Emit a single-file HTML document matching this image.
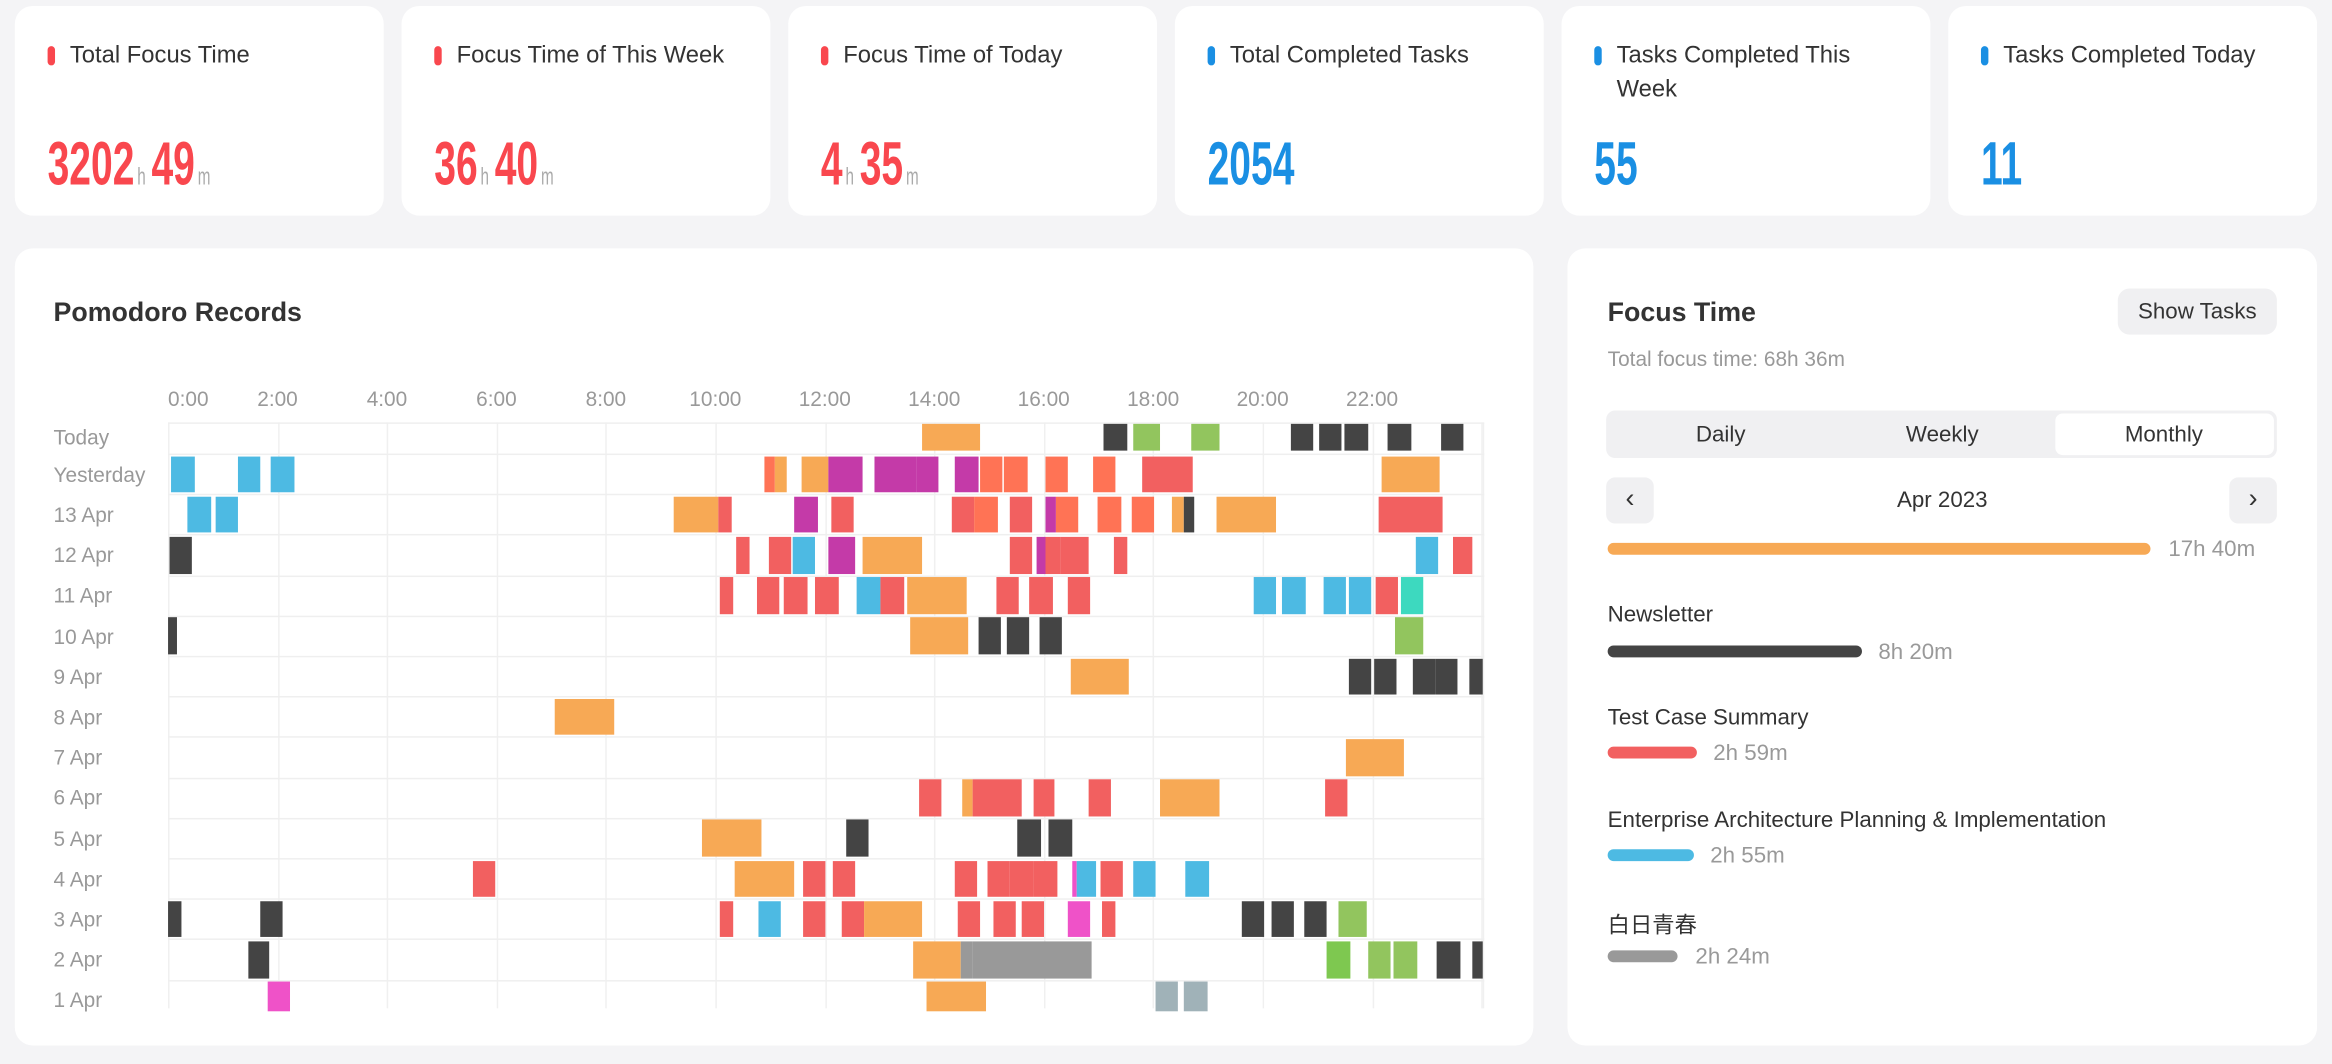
<!DOCTYPE html>
<html><head><meta charset="utf-8"><style>
*{box-sizing:border-box;margin:0;padding:0}
html,body{width:2332px;height:1064px;overflow:hidden;background:#f4f4f6}
#w{position:absolute;left:0;top:0;width:1568px;height:715px;transform:scale(1.4872);transform-origin:0 0;font-family:"Liberation Sans","Noto Sans CJK SC",sans-serif;color:#333}
.card{position:absolute;top:4px;width:248px;height:141px;background:#fff;border-radius:12px}
.ct{position:absolute;left:37px;top:22px;font-size:16px;line-height:23px;color:#333;width:190px}
.dot{position:absolute;left:22px;top:27px;width:5px;height:13px;border-radius:3px}
.num{position:absolute;left:22px;top:82px;white-space:nowrap;transform:scaleX(0.64);transform-origin:0 0;font-size:41px;font-weight:bold;line-height:48px}
.num small{font-size:16px;color:#aaa;font-weight:normal;margin:0 6px 0 3px}
.panel{position:absolute;background:#fff;border-radius:12px}
.h{position:absolute;font-size:18px;font-weight:bold;color:#333}
.ax{position:absolute;top:260px;font-size:14px;color:#999;transform:translateX(-50%)}
.rl{position:absolute;left:36px;font-size:14px;color:#999;line-height:16px}
.b{position:absolute}
.gv{position:absolute;top:284px;height:394px;width:1px;background:#f0f0f0}
.gh{position:absolute;left:113px;width:885px;height:1px;background:#efefef}
.seg{position:absolute;font-size:15px;color:#333;transform:translateX(-50%);top:284px}
.nm{position:absolute;left:1081px;font-size:15px;color:#333}
.bar{position:absolute;left:1081px;height:8px;border-radius:4px}
.v{position:absolute;font-size:15px;color:#999}
</style></head><body><div id="w">
<div class="card" style="left:10px"><div class="dot" style="background:#f9474e"></div><div class="ct">Total Focus Time</div><div class="num" style="color:#f9474e">3202<small>h</small>49<small>m</small></div></div>
<div class="card" style="left:270px"><div class="dot" style="background:#f9474e"></div><div class="ct">Focus Time of This Week</div><div class="num" style="color:#f9474e">36<small>h</small>40<small>m</small></div></div>
<div class="card" style="left:530px"><div class="dot" style="background:#f9474e"></div><div class="ct">Focus Time of Today</div><div class="num" style="color:#f9474e">4<small>h</small>35<small>m</small></div></div>
<div class="card" style="left:790px"><div class="dot" style="background:#1a8fe3"></div><div class="ct">Total Completed Tasks</div><div class="num" style="color:#1a8fe3">2054</div></div>
<div class="card" style="left:1050px"><div class="dot" style="background:#1a8fe3"></div><div class="ct">Tasks Completed This Week</div><div class="num" style="color:#1a8fe3">55</div></div>
<div class="card" style="left:1310px"><div class="dot" style="background:#1a8fe3"></div><div class="ct">Tasks Completed Today</div><div class="num" style="color:#1a8fe3">11</div></div>

<div class="panel" style="left:10px;top:167px;width:1021px;height:536px"></div>
<div class="h" style="left:36px;top:200px">Pomodoro Records</div>
<div id="chart"></div>

<div class="panel" style="left:1054px;top:167px;width:504px;height:536px"></div>
<div class="h" style="left:1081px;top:200px">Focus Time</div>
<div style="position:absolute;left:1424px;top:194px;width:107px;height:31px;background:#f0f0f2;border-radius:8px;font-size:15px;line-height:31px;text-align:center">Show Tasks</div>
<div style="position:absolute;left:1081px;top:233px;font-size:14px;color:#999">Total focus time: 68h 36m</div>
<div style="position:absolute;left:1080px;top:276px;width:451px;height:32px;background:#f0f0f2;border-radius:6px"></div>
<div style="position:absolute;left:1382px;top:278px;width:147px;height:28px;background:#fff;border-radius:5px"></div>
<div class="seg" style="left:1157px">Daily</div><div class="seg" style="left:1306px">Weekly</div><div class="seg" style="left:1455px">Monthly</div>
<div style="position:absolute;left:1080px;top:321px;width:32px;height:31px;background:#f0f0f2;border-radius:6px;text-align:center;line-height:29px;font-size:18px">‹</div>
<div style="position:absolute;left:1499px;top:321px;width:32px;height:31px;background:#f0f0f2;border-radius:6px;text-align:center;line-height:29px;font-size:18px">›</div>
<div style="position:absolute;left:1306px;top:328px;transform:translateX(-50%);font-size:15px">Apr 2023</div>
<div class="bar" style="top:365px;width:365px;background:#f7a955"></div><div class="v" style="left:1458px;top:361px">17h 40m</div>
<div class="nm" style="top:405px">Newsletter</div>
<div class="bar" style="top:434px;width:171px;background:#444"></div><div class="v" style="left:1263px;top:430px">8h 20m</div>
<div class="nm" style="top:474px">Test Case Summary</div>
<div class="bar" style="top:502px;width:60px;background:#f26060"></div><div class="v" style="left:1152px;top:498px">2h 59m</div>
<div class="nm" style="top:543px">Enterprise Architecture Planning &amp; Implementation</div>
<div class="bar" style="top:571px;width:58px;background:#4dbae3"></div><div class="v" style="left:1150px;top:567px">2h 55m</div>
<div class="nm" style="top:611px">白日青春</div>
<div class="bar" style="top:639px;width:47px;background:#999"></div><div class="v" style="left:1140px;top:635px">2h 24m</div>
</div>
<script>
var C={O:'#f7a955',R:'#f26060',Q:'#ff7355',M:'#c43aa8',B:'#4dbae3',D:'#444',G:'#92c55e',T:'#3dd9bf',Y:'#999',P:'#ef52c8',S:'#a0b2b8',L:'#7ec850'};
var rows=[
"O897-965 D1108-1135 G1142-1174 G1210-1242 D1325-1352 D1359-1385 D1388-1415 D1439-1466 D1501-1527",
"B23-50 B100-126 B139-166 Q713-726 O726-740 O757-787 M787-827 M841-889 M889-915 M935-962 Q964-991 Q992-1019 Q1041-1067 Q1096-1122 R1152-1212 O1431-1499",
"B42-69 B75-101 O608-659 R659-676 M748-775 R791-817 R932-958 Q958-985 R998-1024 M1040-1052 Q1052-1079 Q1101-1128 Q1140-1166 O1188-1201 D1201-1214 O1239-1309 R1427-1502",
"D22-48 R680-696 R719-745 B746-772 M787-819 O828-897 R998-1024 M1030-1040 R1040-1057 R1057-1090 R1120-1136 B1471-1497 R1514-1537",
"R661-677 R705-731 R736-763 R773-799 B821-848 R849-876 O879-948 R983-1009 R1022-1049 R1066-1093 B1282-1308 B1316-1343 B1363-1390 B1393-1419 R1424-1450 T1453-1480",
"D20-30 O883-951 D962-988 D996-1022 D1033-1059 G1447-1479",
"O1070-1138 D1394-1420 D1423-1449 D1467-1493 D1494-1520 D1533-1549",
"O469-538","O1389-1458",
"R893-919 O943-956 R956-1012 R1026-1051 R1090-1116 O1174-1243 R1366-1391",
"O641-710 D809-835 D1008-1035 D1044-1071",
"R375-401 O679-748 R759-785 R793-819 R934-960 R973-999 R999-1027 R1027-1054 P1072-1076 B1076-1099 R1104-1110 R1110-1130 B1142-1168 B1203-1230",
"D20-35 D126-152 R662-677 B706-732 R758-784 R803-829 O829-897 R939-965 R980-1006 R1012-1038 P1067-1093 R1106-1122 D1269-1295 D1303-1329 D1342-1368 G1382-1414",
"D113-138 O886-941 Y941-956 Y956-1094 L1368-1395 G1415-1441 G1445-1472 D1496-1523 D1537-1549",
"P136-162 O902-971 S1169-1195 S1202-1229"];
var labels=["Today","Yesterday","13 Apr","12 Apr","11 Apr","10 Apr","9 Apr","8 Apr","7 Apr","6 Apr","5 Apr","4 Apr","3 Apr","2 Apr","1 Apr"];
var h='';
for(var i=0;i<13;i++){var x=113+i*73.6;h+='<div class="gv" style="left:'+x+'px"></div>';}
h+='<div class="gv" style="left:997px"></div>';
for(var i=0;i<12;i++){var x=113+i*73.6;h+='<div class="ax" style="left:'+x+'px;'+(i==0?'transform:none':'')+'">'+(i*2)+':00</div>';}
h+='<div class="gh" style="top:284px"></div>';
function X(z){return 101.7+0.578*z;}
rows.forEach(function(r,k){
 var top=k==0?284.5:306.6+27.2*(k-1), ht=k==0?18.4:24.5;
 if(k==14)ht=20;
 if(k>0)h+='<div class="gh" style="top:'+(top-1.6)+'px"></div>';
 h+='<div class="rl" style="top:'+(top+12.2-8-(k==0?3:0))+'px">'+labels[k]+'</div>';
 r.split(' ').forEach(function(s){var c=C[s[0]],p=s.slice(1).split('-');var a=X(+p[0]),b=X(+p[1]);
 h+='<div class="b" style="left:'+a+'px;width:'+(b-a)+'px;top:'+top+'px;height:'+ht+'px;background:'+c+'"></div>';});
});
document.getElementById('chart').innerHTML=h;
</script>
</body></html>
